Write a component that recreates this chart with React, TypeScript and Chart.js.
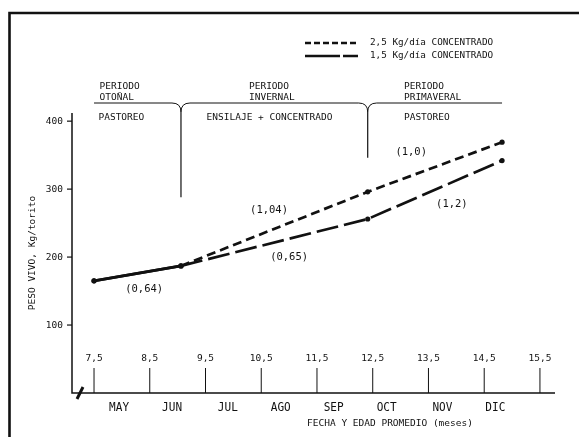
import React, { useEffect, useRef } from "react";
import { Chart, registerables } from "chart.js";

Chart.register(...registerables);

// ---- data ----
const ages = [7.5, 9.06, 12.41, 14.82];
const weight25 = [165, 187, 296, 369];
const weight15 = [165, 187, 256, 342];
const seriesNames = ["2,5 Kg/día CONCENTRADO", "1,5 Kg/día CONCENTRADO"];

const ageTicks = [7.5, 8.5, 9.5, 10.5, 11.5, 12.5, 13.5, 14.5, 15.5];
const ageTickLabels = ["7,5", "8,5", "9,5", "10,5", "11,5", "12,5", "13,5", "14,5", "15,5"];
const weightTicks = [100, 200, 300, 400];
const weightTickLabels = ["100", "200", "300", "400"];
const months = ["MAY", "JUN", "JUL", "AGO", "SEP", "OCT", "NOV", "DIC"];
const monthAges = [7.95, 8.9, 9.9, 10.85, 11.8, 12.75, 13.75, 14.7];

const periodTitles = ["OTOÑAL", "INVERNAL", "PRIMAVERAL"];
const periodTitleAges = [7.6, 10.28, 13.06];
const periodActivities = ["PASTOREO", "ENSILAJE + CONCENTRADO", "PASTOREO"];
const activityAges = [7.58, 9.52, 13.06];
const separatorAges = [9.06, 12.41];
const separatorBottoms = [288, 346];

const gainLabels = ["(0,64)", "(1,04)", "(0,65)", "(1,0)", "(1,2)"];
const gainAges = [8.4, 10.64, 11.0, 13.19, 13.92];
const gainWeights = [152, 269, 200, 354, 278];

const xTitle = "FECHA Y EDAD PROMEDIO (meses)";
const yTitle = "PESO VIVO, Kg/torito";

const W = 579;
const H = 437;
const FONT = '"DejaVu Sans Mono", monospace';
const INK = "#111";

const overlay = {
  id: "overlay",
  beforeDatasetsDraw(chart: any) {
    const ctx = chart.ctx as CanvasRenderingContext2D;
    const xs = chart.scales.x;
    const ys = chart.scales.y;
    const a = chart.chartArea;
    ctx.save();
    ctx.strokeStyle = INK;
    ctx.fillStyle = INK;

    // frame
    ctx.lineWidth = 2.6;
    ctx.beginPath();
    ctx.moveTo(9.5, H);
    ctx.lineTo(9.5, 13);
    ctx.lineTo(W, 13);
    ctx.stroke();

    // axes
    ctx.lineWidth = 1.5;
    ctx.beginPath();
    ctx.moveTo(a.left, a.top);
    ctx.lineTo(a.left, a.bottom);
    ctx.lineTo(a.right, a.bottom);
    ctx.stroke();

    ctx.font = `9.5px ${FONT}`;
    ctx.textAlign = "right";
    ctx.textBaseline = "middle";
    ctx.lineWidth = 1.2;
    weightTicks.forEach((v, i) => {
      const y = ys.getPixelForValue(v);
      ctx.beginPath();
      ctx.moveTo(a.left - 5, y);
      ctx.lineTo(a.left, y);
      ctx.stroke();
      ctx.fillText(weightTickLabels[i], a.left - 9, y);
    });

    // x ticks (drawn upward) and labels
    ctx.textAlign = "center";
    ctx.lineWidth = 1;
    ageTicks.forEach((v, i) => {
      const x = xs.getPixelForValue(v);
      ctx.beginPath();
      ctx.moveTo(x, a.bottom);
      ctx.lineTo(x, a.bottom - 25);
      ctx.stroke();
      ctx.fillText(ageTickLabels[i], x, a.bottom - 34);
    });

    // axis break mark
    ctx.lineWidth = 3;
    ctx.beginPath();
    ctx.moveTo(a.left + 5, a.bottom + 6);
    ctx.lineTo(a.left + 11, a.bottom - 6);
    ctx.stroke();

    // months
    ctx.font = `12.5px ${FONT}`;
    months.forEach((m, i) => {
      ctx.fillText(m, xs.getPixelForValue(monthAges[i]), a.bottom + 15, 20);
    });

    // axis titles
    ctx.font = `9.5px ${FONT}`;
    ctx.fillText(xTitle, xs.getPixelForValue(12.81), a.bottom + 31);
    ctx.save();
    ctx.translate(33, ys.getPixelForValue(206));
    ctx.rotate(-Math.PI / 2);
    ctx.fillText(yTitle, 0, 0);
    ctx.restore();

    // legend
    const lx0 = 305;
    const lx1 = 358;
    const ly = [43, 56];
    ctx.lineWidth = 2.6;
    ctx.setLineDash([6, 3]);
    ctx.beginPath();
    ctx.moveTo(lx0, ly[0]);
    ctx.lineTo(lx1, ly[0]);
    ctx.stroke();
    ctx.setLineDash([35, 3]);
    ctx.beginPath();
    ctx.moveTo(lx0, ly[1]);
    ctx.lineTo(lx1, ly[1]);
    ctx.stroke();
    ctx.setLineDash([]);
    ctx.font = `9.3px ${FONT}`;
    ctx.textAlign = "left";
    seriesNames.forEach((s, i) => ctx.fillText(s, 370, ly[i]));

    // period header
    ctx.font = `9.5px ${FONT}`;
    periodTitles.forEach((t, i) => {
      const x = xs.getPixelForValue(periodTitleAges[i]);
      ctx.fillText("PERIODO", x, 87);
      ctx.fillText(t, x, 98);
    });
    const hy = 103;
    const cy = 112;
    const s1 = xs.getPixelForValue(separatorAges[0]);
    const s2 = xs.getPixelForValue(separatorAges[1]);
    ctx.lineWidth = 1;
    ctx.beginPath();
    ctx.moveTo(xs.getPixelForValue(ages[0]), hy);
    [s1, s2].forEach((s) => {
      ctx.lineTo(s - 9, hy);
      ctx.quadraticCurveTo(s, hy, s, cy);
      ctx.quadraticCurveTo(s, hy, s + 9, hy);
    });
    ctx.lineTo(xs.getPixelForValue(ages[3]), hy);
    ctx.stroke();
    ctx.lineWidth = 1.2;
    [s1, s2].forEach((s, i) => {
      ctx.beginPath();
      ctx.moveTo(s, cy);
      ctx.lineTo(s, ys.getPixelForValue(separatorBottoms[i]));
      ctx.stroke();
    });
    periodActivities.forEach((t, i) => {
      ctx.fillText(t, xs.getPixelForValue(activityAges[i]), 118);
    });

    // gain labels
    ctx.font = `10.5px ${FONT}`;
    ctx.textAlign = "center";
    gainLabels.forEach((g, i) => {
      ctx.fillText(g, xs.getPixelForValue(gainAges[i]), ys.getPixelForValue(gainWeights[i]));
    });

    ctx.restore();
  },
};

export default function App() {
  const ref = useRef<HTMLCanvasElement | null>(null);
  useEffect(() => {
    if (!ref.current) return;
    const mk = (vals: number[]) => ages.map((x, i) => ({ x, y: vals[i] }));
    const chart = new Chart(ref.current, {
      type: "line",
      data: {
        datasets: [
          {
            label: seriesNames[0],
            data: mk(weight25),
            borderColor: INK,
            backgroundColor: INK,
            borderWidth: 2.7,
            pointRadius: 2.6,
            pointBorderWidth: 0,
            pointBackgroundColor: INK,
            tension: 0,
            segment: { borderDash: (c: any) => (c.p0DataIndex === 0 ? [] : [9, 5]) },
          },
          {
            label: seriesNames[1],
            data: mk(weight15),
            borderColor: INK,
            backgroundColor: INK,
            borderWidth: 2.7,
            pointRadius: 2.6,
            pointBorderWidth: 0,
            pointBackgroundColor: INK,
            tension: 0,
            segment: { borderDash: (c: any) => (c.p0DataIndex === 0 ? [] : [22, 6]) },
          },
        ],
      },
      options: {
        responsive: false,
        animation: false,
        devicePixelRatio: 1,
        layout: { padding: { left: 72, right: W - 555, top: 113, bottom: H - 393 } },
        scales: {
          x: { type: "linear", min: 7.105, max: 15.77, display: false },
          y: { type: "linear", min: 0, max: 412, display: false },
        },
        plugins: { legend: { display: false }, tooltip: { enabled: false } },
      },
      plugins: [overlay],
    } as any);
    return () => chart.destroy();
  }, []);
  return (
    <div style={{ position: "fixed", left: 0, top: 0, width: W, height: H, background: "#fff" }}>
      <canvas ref={ref} width={W} height={H} style={{ display: "block" }} />
    </div>
  );
}
